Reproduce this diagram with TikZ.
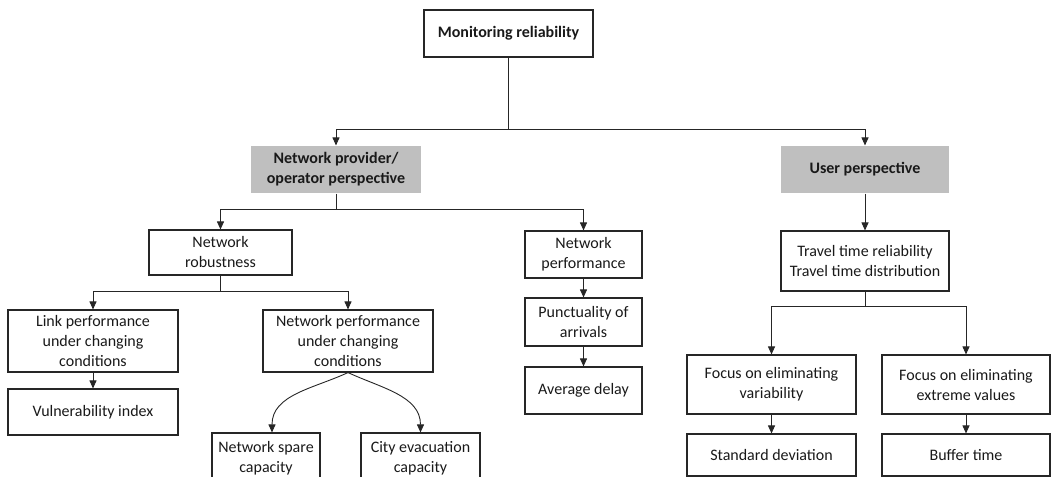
\documentclass[tikz,border=0pt]{standalone}
\usepackage{fontspec}
\setmainfont{Carlito}
\usetikzlibrary{arrows.meta}
\begin{document}
\begin{tikzpicture}[x=1pt,y=-1pt,
    box/.style={draw=black!85,line width=1.1pt,align=center,inner sep=0pt,
      font=\fontsize{16}{20}\selectfont,text=black!90},
    head/.style={box,draw=none,fill=black!25,font=\fontsize{16}{20}\selectfont\bfseries},
    arr/.style={-{Triangle[length=8pt,width=7pt]},line width=0.9pt,draw=black!85}]
  \clip (0,0) rectangle (1056,476);
  % top level
  \node[box,font=\fontsize{16}{20}\selectfont\bfseries,minimum width=169,minimum height=47] (top) at (508.5,33.5) {Monitoring reliability};
  \node[head,minimum width=170,minimum height=47] (prov) at (336,169.5) {Network provider/\\operator perspective};
  \node[head,minimum width=168,minimum height=47] (user) at (865,169.5) {User perspective};
  % provider side
  \node[box,minimum width=143,minimum height=45] (robust) at (220.5,252.5) {Network\\robustness};
  \node[box,minimum width=117,minimum height=47] (perf) at (583.5,254.5) {Network\\performance};
  \node[box,minimum width=117,minimum height=48] (punct) at (583.5,322) {Punctuality of\\arrivals};
  \node[box,minimum width=117,minimum height=47] (delay) at (583.5,390.5) {Average delay};
  \node[box,minimum width=170,minimum height=62] (link) at (93,341) {Link performance\\under changing\\conditions};
  \node[box,minimum width=170,minimum height=46] (vuln) at (93,412) {Vulnerability index};
  \node[box,minimum width=170,minimum height=62] (netperf) at (348,341) {Network performance\\under changing\\conditions};
  \node[box,minimum width=108,minimum height=50] (spare) at (266,458) {Network spare\\capacity};
  \node[box,minimum width=119,minimum height=50] (city) at (420.5,458) {City evacuation\\capacity};
  % user side
  \node[box,minimum width=168,minimum height=60] (ttr) at (865,261) {Travel time reliability\\Travel time distribution};
  \node[box,minimum width=169,minimum height=59] (focvar) at (771.5,384.5) {Focus on eliminating\\variability};
  \node[box,minimum width=168,minimum height=59] (focext) at (966,384.5) {Focus on eliminating\\extreme values};
  \node[box,minimum width=169,minimum height=42] (std) at (771.5,455) {Standard deviation};
  \node[box,minimum width=168,minimum height=42] (buf) at (966,455) {Buffer time};
  % junctions
  \coordinate (j1) at (508.5,129);
  \coordinate (j2) at (336,209);
  \coordinate (j3) at (220.5,291);
  \coordinate (j4) at (865,306);
  % connectors
  \draw[arr] (top.south) -- (j1) -| (prov.north);
  \draw[arr] (j1) -| (user.north);
  \draw[arr] (prov.south) -- (j2) -| (robust.north);
  \draw[arr] (j2) -| (perf.north);
  \draw[arr] (robust.south) -- (j3) -| (link.north);
  \draw[arr] (j3) -| (netperf.north);
  \draw[arr] (link) -- (vuln);
  \draw[arr] (perf) -- (punct);
  \draw[arr] (punct) -- (delay);
  \draw[arr] (netperf.south) to[out=-155,in=90] ([xshift=6]spare.north);
  \draw[arr] (netperf.south) to[out=-25,in=90] (city.north);
  \draw[arr] (user) -- (ttr);
  \draw[arr] (ttr.south) -- (j4) -| (focvar.north);
  \draw[arr] (j4) -| (focext.north);
  \draw[arr] (focvar) -- (std);
  \draw[arr] (focext) -- (buf);
\end{tikzpicture}
\end{document}
